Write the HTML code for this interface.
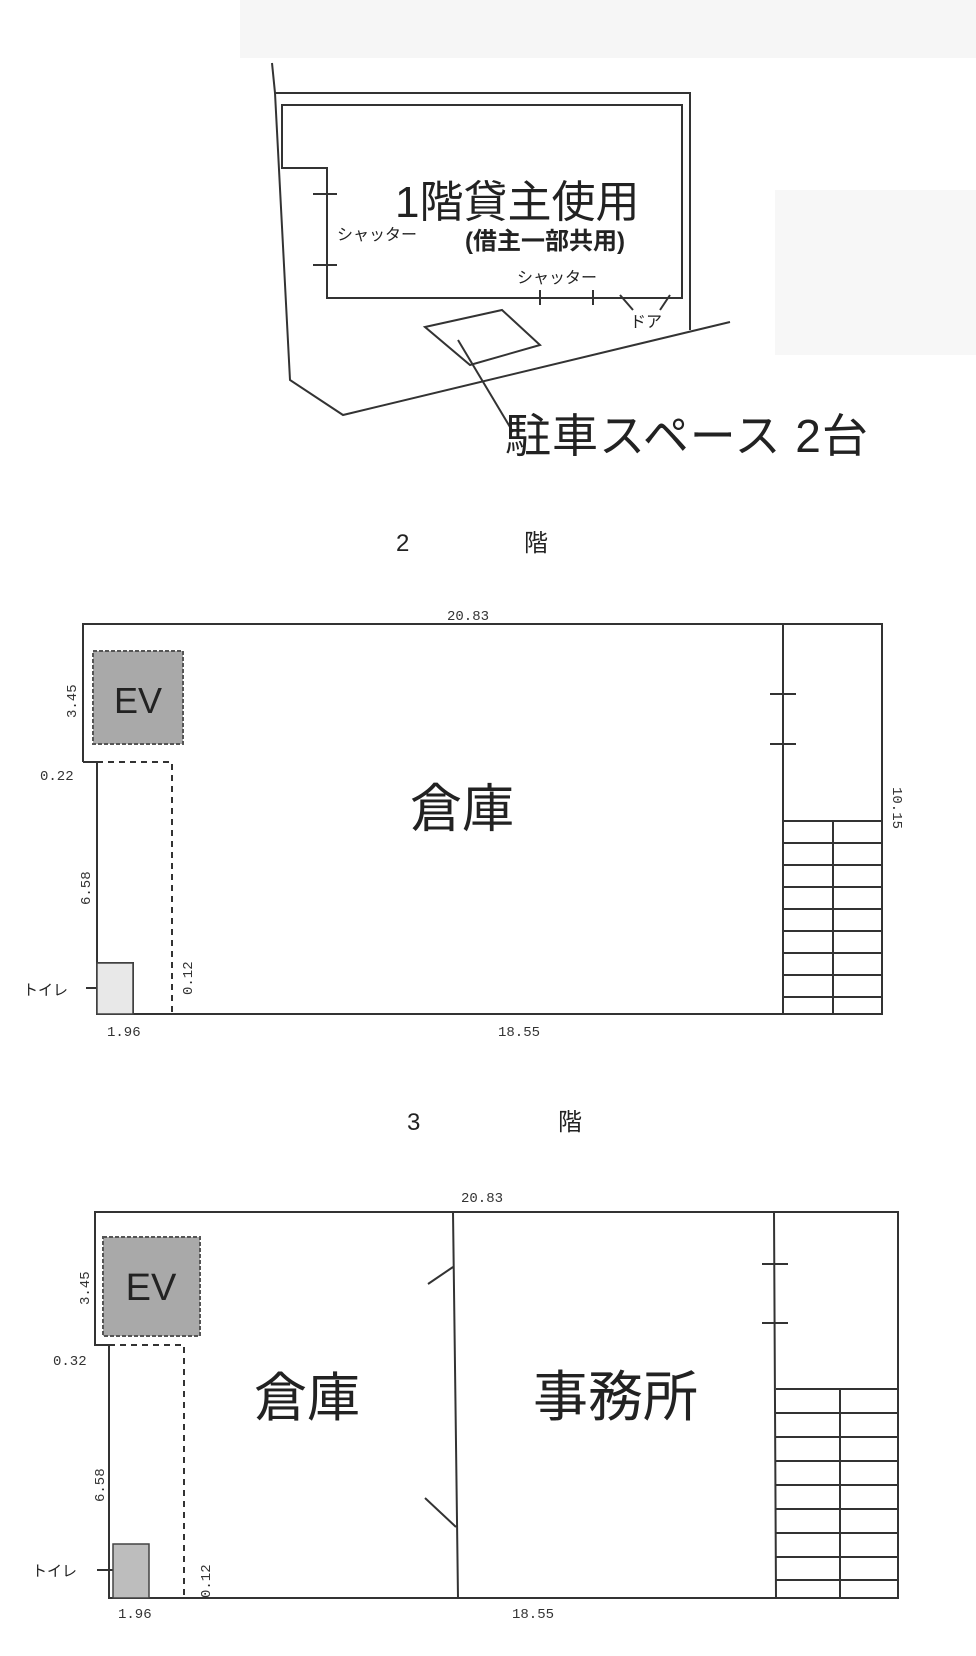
<!DOCTYPE html>
<html><head><meta charset="utf-8"><style>
html,body{margin:0;padding:0;background:#fff;}
svg{display:block;}
text{font-family:"Liberation Sans","Noto Sans CJK JP",sans-serif;fill:#222;}
.m{font-family:"Liberation Mono","Noto Sans CJK JP",monospace;font-size:14px;fill:#333;}
</style></head><body>
<svg width="976" height="1656" viewBox="0 0 976 1656" xmlns="http://www.w3.org/2000/svg">
<rect x="240" y="0" width="736" height="58" fill="#f6f6f6"/>
<rect x="775" y="190" width="201" height="165" fill="#f7f7f7"/>
<g stroke="#333" stroke-width="2" fill="none">
<!-- floor 1 -->
<path d="M272 63 L275 93 L690 93 L690 330"/>
<path d="M275 93 L290 380 L343 415 L730 322"/>
<path d="M282 105 L682 105 L682 298 L327 298 L327 168 L282 168 Z"/>
<path d="M313 194 L337 194 M313 265 L337 265 M540 290 L540 305 M593 290 L593 305 M620 295 L633 310 M670 295 L660 310"/>
<path d="M425 327 L502 310 L540 345 L470 365 Z"/>
<path d="M458 340 L513 432"/>
<!-- floor 2 -->
<path d="M83 762 L83 624 L882 624 L882 1014 L97 1014 L97 762 L83 762"/>
<path d="M783 624 L783 1014 M770 694 L796 694 M770 744 L796 744"/>
<path d="M783 821 L882 821 M833 821 L833 1014"/>
<path d="M783 843H882M783 865H882M783 887H882M783 909H882M783 931H882M783 953H882M783 975H882M783 997H882"/>
<path d="M97 963 L133 963 L133 1014 M86 988 L110 988"/>
<path d="M97 762 L172 762 L172 1014" stroke-dasharray="6 5"/>
<!-- floor 3 -->
<path d="M109 1345 L95 1345 L95 1212 L898 1212 L898 1598 L109 1598 Z"/>
<path d="M453 1212 L458 1598 M453 1267 L428 1284 M456 1527 L425 1498"/>
<path d="M774 1212 L776 1598 M762 1264 L788 1264 M762 1323 L788 1323"/>
<path d="M776 1389 L898 1389 M840 1389 L840 1598"/>
<path d="M776 1413H898M776 1437H898M776 1461H898M776 1485H898M776 1509H898M776 1533H898M776 1557H898M776 1580H898"/>
<path d="M109 1345 L184 1345 L184 1598" stroke-dasharray="6 5"/>
<path d="M97 1570 L120 1570"/>
</g>
<rect x="93" y="651" width="90" height="93" fill="#a9a9a9" stroke="#555" stroke-width="2" stroke-dasharray="4 2"/>
<rect x="97" y="963" width="36" height="51" fill="#e8e8e8" stroke="#444" stroke-width="1.5"/>
<rect x="103" y="1237" width="97" height="99" fill="#a9a9a9" stroke="#555" stroke-width="2" stroke-dasharray="4 2"/>
<rect x="113" y="1544" width="36" height="54" fill="#bdbdbd" stroke="#444" stroke-width="1.5"/>
<!-- texts floor 1 -->
<text x="395" y="217" font-size="44">1階貸主使用</text>
<text x="465" y="249" font-size="24" font-weight="bold">(借主一部共用)</text>
<text x="337" y="240" font-size="16">シャッター</text>
<text x="517" y="283" font-size="16">シャッター</text>
<text x="630" y="327" font-size="16">ドア</text>
<text x="505" y="452" font-size="46" letter-spacing="1">駐車スペース 2台</text>
<!-- floor 2 -->
<text x="396" y="551" font-size="24">2</text>
<text x="524" y="551" font-size="24">階</text>
<text class="m" x="447" y="620">20.83</text>
<text x="138" y="713" font-size="36" text-anchor="middle">EV</text>
<text class="m" transform="translate(76,718) rotate(-90)">3.45</text>
<text class="m" x="40" y="780">0.22</text>
<text class="m" transform="translate(90,905) rotate(-90)">6.58</text>
<text x="23" y="995" font-size="15">トイレ</text>
<text class="m" transform="translate(192,995) rotate(-90)">0.12</text>
<text class="m" x="107" y="1036">1.96</text>
<text class="m" x="498" y="1036">18.55</text>
<text class="m" transform="translate(893,787) rotate(90)">10.15</text>
<text x="410" y="827" font-size="52">倉庫</text>
<!-- floor 3 -->
<text x="407" y="1130" font-size="24">3</text>
<text x="558" y="1130" font-size="24">階</text>
<text class="m" x="461" y="1202">20.83</text>
<text x="151" y="1300" font-size="38" text-anchor="middle">EV</text>
<text class="m" transform="translate(89,1305) rotate(-90)">3.45</text>
<text class="m" x="53" y="1365">0.32</text>
<text class="m" transform="translate(104,1502) rotate(-90)">6.58</text>
<text x="32" y="1576" font-size="15">トイレ</text>
<text class="m" transform="translate(210,1598) rotate(-90)">0.12</text>
<text class="m" x="118" y="1618">1.96</text>
<text class="m" x="512" y="1618">18.55</text>
<text x="254" y="1416" font-size="53">倉庫</text>
<text x="533" y="1416" font-size="55">事務所</text>
</svg>
</body></html>
